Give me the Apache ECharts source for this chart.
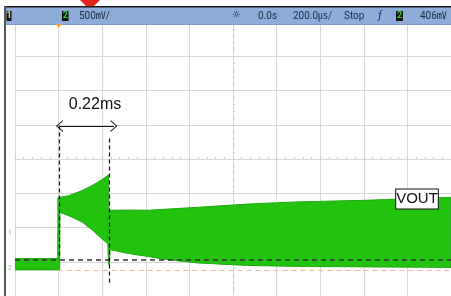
<!DOCTYPE html>
<html><head><meta charset="utf-8">
<script src="https://cdn.jsdelivr.net/npm/echarts@6/dist/echarts.min.js"></script>
<style>html,body{margin:0;padding:0;background:#fff}#c{width:451px;height:296px}</style>
</head><body><div id="c"></div><script>
// time in microseconds (200 us/div), voltage in volts (500 mV/div)
const upperT = [-200, -4, -3, 4, 50, 108, 154, 199, 226, 229, 231, 239, 322, 412, 639, 866, 1093, 1397, 1778, 1800];
const upperV = [0.547, 0.547, 1.44, 1.439, 1.468, 1.540, 1.612, 1.698, 1.763, 1.765, 1.252, 1.252, 1.255, 1.252, 1.295, 1.342, 1.374, 1.396, 1.439, 1.44];
const lowerT = [-200, 5, 6, 62, 108, 154, 199, 226, 229, 233, 236, 322, 412, 490, 639, 866, 1093, 1800];
const lowerV = [0.381, 0.381, 1.223, 1.151, 1.079, 0.964, 0.835, 0.763, 0.46, 0.46, 0.676, 0.619, 0.576, 0.532, 0.482, 0.446, 0.432, 0.417];
const refLevel = 0.532;      // black dashed reference
const lowLevel = 0.381;      // orange dashed
const cursorA = 2, cursorB = 231;
const measureText = '0.22ms';
const traceLabel = 'VOUT';
const hdr = {ch2Scale: '500㎷/', delay: '0.0s', timebase: '200.0㎲/', mode: 'Stop', trigLevel: '406㎷'};

const chart = echarts.init(document.getElementById('c'), null, {renderer: 'canvas'});
const gridLine = {lineStyle: {color: '#d7d7d7', width: 1}};
const hdrFont = 'Roboto, "Noto Sans CJK SC", sans-serif';
const hdrColor = '#1d2a44';

chart.setOption({
  animation: false,
  backgroundColor: '#ffffff',
  grid: {left: 15, top: 22, width: 440.8, height: 278},
  xAxis: [
    {type: 'value', min: -200, max: 1800, interval: 200, axisLine: {show: false}, axisTick: {show: false}, axisLabel: {show: false}, splitLine: gridLine},
    {type: 'value', min: -5, max: 5, interval: 1, axisLine: {show: true, onZero: true, onZeroAxisIndex: 1, lineStyle: {color: '#d7d7d7'}},
     axisTick: {show: true, length: 2, lineStyle: {color: '#c8c8c8'}}, minorTick: {show: true, splitNumber: 5, length: 2, lineStyle: {color: '#c8c8c8'}},
     axisLabel: {show: false}, splitLine: {show: false}}
  ],
  yAxis: [
    {type: 'value', min: 0, max: 4, interval: 0.5, axisLine: {show: false}, axisTick: {show: false}, axisLabel: {show: false}, splitLine: gridLine},
    {type: 'value', min: -4, max: 4, interval: 1, axisLine: {show: true, onZero: true, onZeroAxisIndex: 1, lineStyle: {color: '#d7d7d7'}},
     axisTick: {show: true, length: 2, lineStyle: {color: '#c8c8c8'}}, minorTick: {show: true, splitNumber: 5, length: 2, lineStyle: {color: '#c8c8c8'}},
     axisLabel: {show: false}, splitLine: {show: false}}
  ],
  series: [{
    type: 'custom',
    xAxisIndex: 0, yAxisIndex: 0,
    data: [[0, 0]],
    clip: true,
    renderItem: function (params, api) {
      const pts = [];
      for (let i = 0; i < upperT.length; i++) pts.push(api.coord([upperT[i], upperV[i]]));
      for (let i = lowerT.length - 1; i >= 0; i--) pts.push(api.coord([lowerT[i], lowerV[i]]));
      return {type: 'polygon', shape: {points: pts}, style: {fill: '#22c20f', stroke: '#1faa12', lineWidth: 1}};
    },
    markLine: {
      silent: true, symbol: ['none', 'none'], label: {show: false},
      data: [
        [{coord: [-200, refLevel], lineStyle: {color: '#333', type: [5, 4], width: 1.5}}, {coord: [1800, refLevel]}],
        [{coord: [-5, lowLevel], lineStyle: {color: '#f2b79a', type: [5, 4], width: 1}}, {coord: [1800, lowLevel]}],
        [{coord: [cursorA, 2.49], lineStyle: {color: '#111', type: [4, 3], width: 1.2}}, {coord: [cursorA, 0.547]}],
        [{coord: [cursorB, 2.30], lineStyle: {color: '#111', type: [4, 3], width: 1.2}}, {coord: [cursorB, 0.187]}],
        [{coord: [4, 2.482], symbol: 'path://M0,10L5,0L10,10L9,10L5,2L1,10Z', symbolSize: [12, 7], lineStyle: {color: '#111', type: 'solid', width: 1.2}},
         {coord: [254, 2.482], symbol: 'path://M0,10L5,0L10,10L9,10L5,2L1,10Z', symbolSize: [12, 7]}]
      ]
    },
    markPoint: {
      silent: true,
      data: [
        {coord: [167, 2.79], symbol: 'rect', symbolSize: 1, itemStyle: {color: 'rgba(0,0,0,0)'},
         label: {show: true, position: 'inside', formatter: measureText, color: '#111', fontSize: 16, fontFamily: '"Liberation Sans", Arial, sans-serif'}},
        {coord: [1644, 1.417], symbol: 'rect', symbolSize: 1, itemStyle: {color: 'rgba(0,0,0,0)'},
         label: {show: true, position: 'inside', formatter: traceLabel, color: '#111', fontSize: 15, fontFamily: '"Liberation Sans", Arial, sans-serif',
                 backgroundColor: '#fff', borderColor: '#111', borderWidth: 1, padding: [2, 0, 0, 0], lineHeight: 17}}
      ]
    }
  }],
  graphic: [
    {type: 'polygon', shape: {points: [[80, 0], [100, 0], [90, 10]]}, style: {fill: '#e3241a'}, z: 100},
    {type: 'rect', shape: {x: 4, y: 7, width: 447, height: 17}, style: {fill: '#8eabd9'}, z: 101},
    {type: 'rect', shape: {x: 4, y: 6, width: 447, height: 1.5}, style: {fill: '#1a1a1a'}, z: 102},
    {type: 'rect', shape: {x: 4, y: 24, width: 447, height: 1}, style: {fill: '#7f9ccc'}, z: 102},
    {type: 'rect', shape: {x: 4, y: 6, width: 2, height: 290}, style: {fill: '#585858'}, z: 102},
    {type: 'rect', shape: {x: 6.5, y: 11, width: 5, height: 10}, style: {fill: '#111'}, z: 103},
    {type: 'text', x: 9, y: 16, style: {text: '1', fill: '#e8e040', font: 'bold 9px Roboto', align: 'center', verticalAlign: 'middle'}, z: 104},
    {type: 'rect', shape: {x: 62, y: 11, width: 6.5, height: 10}, style: {fill: '#111'}, z: 103},
    {type: 'text', x: 65.3, y: 16, style: {text: '2', fill: '#3fd43f', font: 'bold 9px Roboto', align: 'center', verticalAlign: 'middle'}, z: 104},
    {type: 'text', x: 79, y: 16, style: {text: hdr.ch2Scale, fill: hdrColor, font: '10px ' + hdrFont, verticalAlign: 'middle'}, z: 104},
    {type: 'text', x: 236.5, y: 15.5, style: {text: '☼', fill: hdrColor, font: '10px "DejaVu Sans"', align: 'center', verticalAlign: 'middle'}, z: 104},
    {type: 'text', x: 258, y: 16, style: {text: hdr.delay, fill: hdrColor, font: '10px ' + hdrFont, verticalAlign: 'middle'}, z: 104},
    {type: 'text', x: 293, y: 16, style: {text: hdr.timebase, fill: hdrColor, font: '10px ' + hdrFont, verticalAlign: 'middle'}, z: 104},
    {type: 'text', x: 344, y: 16, style: {text: hdr.mode, fill: hdrColor, font: '10px ' + hdrFont, verticalAlign: 'middle'}, z: 104},
    {type: 'text', x: 380, y: 16, style: {text: 'ƒ', fill: hdrColor, font: 'italic 10px ' + hdrFont, align: 'center', verticalAlign: 'middle'}, z: 104},
    {type: 'rect', shape: {x: 396, y: 11, width: 7, height: 10}, style: {fill: '#111'}, z: 103},
    {type: 'text', x: 399.5, y: 16, style: {text: '2', fill: '#3fd43f', font: 'bold 9px Roboto', align: 'center', verticalAlign: 'middle'}, z: 104},
    {type: 'text', x: 420, y: 16, style: {text: hdr.trigLevel, fill: hdrColor, font: '10px ' + hdrFont, verticalAlign: 'middle'}, z: 104},
    {type: 'polygon', shape: {points: [[55.5, 24], [62, 24], [58.7, 27.5]]}, style: {fill: '#f0a020'}, z: 104},
    {type: 'text', x: 10, y: 233, style: {text: '1', fill: '#7ad07a', font: '7px Roboto', align: 'center', verticalAlign: 'middle'}, z: 104},
    {type: 'text', x: 10, y: 268, style: {text: '2', fill: '#7ad07a', font: '7px Roboto', align: 'center', verticalAlign: 'middle'}, z: 104}
  ]
});
</script></body></html>
